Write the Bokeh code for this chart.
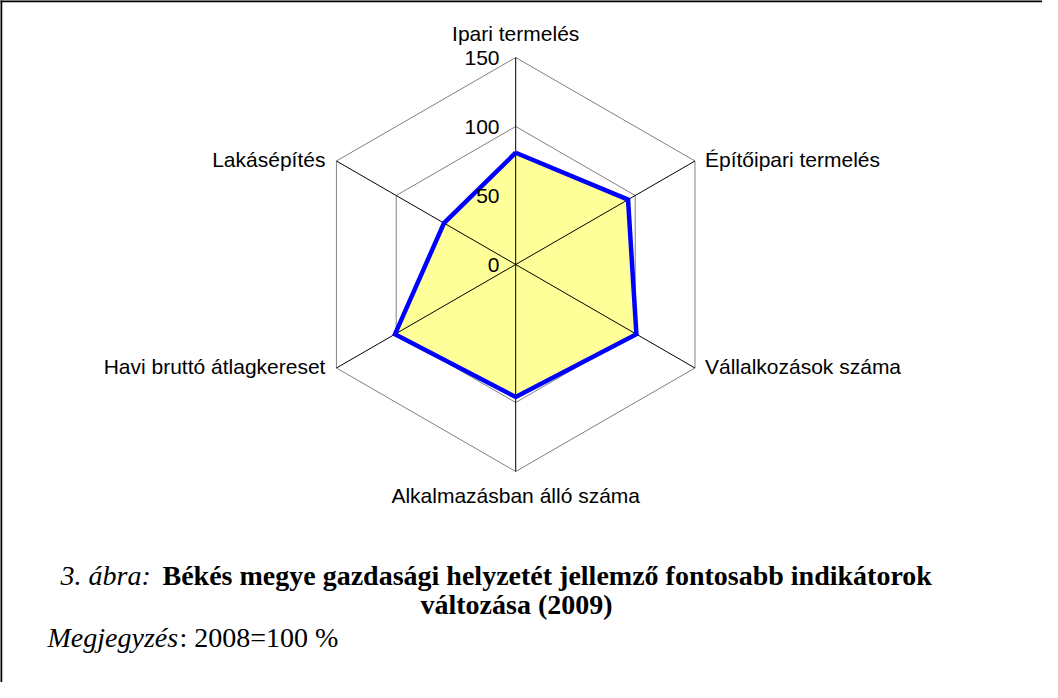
import math
from bokeh.plotting import figure
from bokeh.models import Range1d, ColumnDataSource
from bokeh.core.properties import value
from bokeh.embed import file_html
from bokeh.resources import INLINE

# ---- data ----
categories = ["Ipari termelés", "Építőipari termelés", "Vállalkozások száma",
              "Alkalmazásban álló száma", "Havi bruttó átlagkereset", "Lakásépítés"]
values_2009 = [81, 94, 101, 96, 101, 60]
ticks = [0, 50, 100, 150]
tick_labels = ["0", "50", "100", "150"]
rmax = 150

caption_prefix = "3. ábra:"
caption_main = "Békés megye gazdasági helyzetét jellemző fontosabb indikátorok"
caption_line2 = "változása (2009)"
note_label = "Megjegyzés"
note_text = ": 2008=100 %"

# ---- geometry (page pixels -> data units) ----
W, H = 1042, 682
S = 207.0 / rmax          # px per unit
CX, CY = 515.2, 264.0     # centre in canvas px

def px(xp):
    return (xp - 8 - CX) / S

def py(yp):
    return (CY - (yp - 8)) / S

p = figure(width=W, height=H, output_backend="svg", toolbar_location=None,
           x_range=Range1d(-CX / S, (W - CX) / S),
           y_range=Range1d(-(H - CY) / S, CY / S),
           min_border=0, outline_line_color=None)
p.axis.visible = False
p.grid.visible = False
p.background_fill_color = "white"

n = len(categories)
angles = [math.pi / 2 - 2 * math.pi * i / n for i in range(n)]

def poly(vals):
    xs = [v * math.cos(a) for v, a in zip(vals, angles)]
    ys = [v * math.sin(a) for v, a in zip(vals, angles)]
    return xs, ys

# grid hexagons
for t in ticks[1:]:
    xs, ys = poly([t] * n)
    p.line(xs + [xs[0]], ys + [ys[0]], line_color="#808080", line_width=1)

# filled data area
dx, dy = poly(values_2009)
p.patch(dx, dy, fill_color="#FFFF99", line_color=None)

# spokes
ox, oy = poly([rmax] * n)
for x, y in zip(ox, oy):
    p.line([0, x], [0, y], line_color="black", line_width=1)

# outline
p.line(dx + [dx[0]], dy + [dy[0]], line_color="#0000FF", line_width=4.5,
       line_join="miter")

sans = value("Liberation Sans")
# tick labels
p.text(x=[px(507)] * len(ticks), y=ticks, text=tick_labels,
       text_align="right", text_baseline="middle",
       text_font=sans, text_font_size="21px", text_color="black")

# category labels
lx, ly, la = [], [], []
for x, y, a in zip(ox, oy, angles):
    c = math.cos(a)
    if abs(c) < 1e-6:
        off = 24 if math.sin(a) > 0 else -24
        lx.append(x)
        ly.append(y + off / S)
        la.append("center")
    else:
        lx.append(x + (10 if c > 0 else -11) / S)
        ly.append(y + 2 / S)
        la.append("left" if c > 0 else "right")
src = ColumnDataSource(dict(x=lx, y=ly, t=categories, a=la))
p.text(x="x", y="y", text="t", text_align="a", text_baseline="middle", source=src,
       text_font=sans, text_font_size="21px", text_color="black")

# caption
serif = value("Liberation Serif")
fs = "28px"
p.text(x=[px(68)], y=[py(583)], text=[caption_prefix], text_align="left",
       text_baseline="middle", text_font=serif, text_font_size=fs,
       text_font_style="italic", text_color="black")
p.text(x=[px(170)], y=[py(583)], text=[caption_main], text_align="left",
       text_baseline="middle", text_font=serif, text_font_size=fs,
       text_font_style="bold", text_color="black")
p.text(x=[px(524)], y=[py(612)], text=[caption_line2], text_align="center",
       text_baseline="middle", text_font=serif, text_font_size=fs,
       text_font_style="bold", text_color="black")
p.text(x=[px(55)], y=[py(645)], text=[note_label], text_align="left",
       text_baseline="middle", text_font=serif, text_font_size=fs,
       text_font_style="italic", text_color="black")
p.text(x=[px(187)], y=[py(645)], text=[note_text], text_align="left",
       text_baseline="middle", text_font=serif, text_font_size=fs,
       text_color="black")

# page frame (top and left edges visible)
p.line([px(7.5), px(1060)], [py(8.5), py(8.5)], line_color="black", line_width=2.5)
p.line([px(8.5), px(8.5)], [py(7.5), py(700)], line_color="black", line_width=2.5)

open("out.html", "w").write(file_html(p, INLINE))
